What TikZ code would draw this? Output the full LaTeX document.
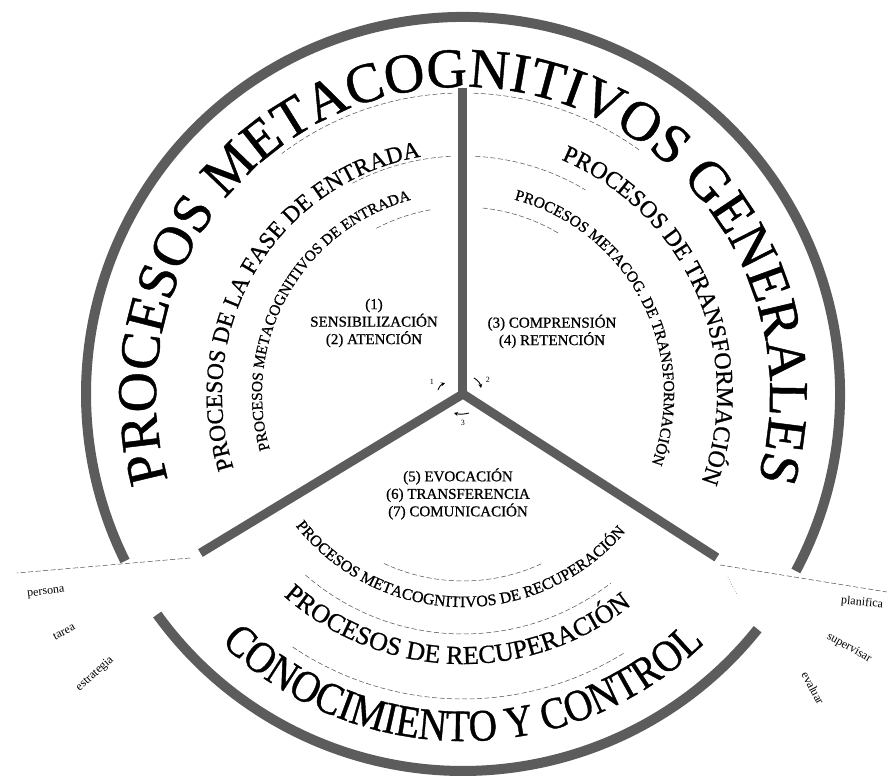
\documentclass[tikz,border=0pt]{standalone}
\usepackage{fontspec}
\setmainfont{Liberation Serif}
\newfontfamily\arcserif[FakeBold=0.8]{Liberation Serif}
\newfontfamily\condserif[FakeStretch=0.87,FakeBold=0.8]{Liberation Serif}
\usetikzlibrary{decorations.text,arrows.meta}
\begin{document}
\begin{tikzpicture}[x=1pt,y=1pt,
  ring/.style={draw=black!64, line width=10pt},
  spoke/.style={draw=black!64, line width=9pt},
  guide/.style={draw=black!70, line width=0.5pt, dash pattern=on 5pt off 2.5pt},
  faint/.style={draw=black!55, line width=0.6pt, dotted},
  lbl/.style={font=\arcserif\fontsize{15}{17.5}\selectfont, align=center, inner sep=0pt},
  side/.style={font=\fontsize{12}{12}\selectfont, inner sep=0pt},
  hubarrow/.style={-{Stealth[length=4pt,width=4pt]}, line width=0.9pt},
  hubnum/.style={font=\fontsize{8}{8}\selectfont, inner sep=0pt},
]
\useasboundingbox (-463,-384) rectangle (424,394);
\clip (-463,-384) rectangle (424,394);

% outer ring (broken at the two lower spokes)
\draw[ring] (-28:377) arc[start angle=-28, end angle=206.3, radius=377];
\draw[ring] (215.8:377) arc[start angle=215.8, end angle=321.4, radius=377];

% spokes
\coordinate (hub) at (0,0);
\coordinate (s1) at (90:306);
\coordinate (s2) at (211.2:307);
\coordinate (s3) at (327.2:302);
\draw[spoke] (s2) -- (hub) -- (s3);
\draw[spoke] (s1) -- (hub);

% dashed guide arcs, upper left
\draw[guide] (92:301) arc[start angle=92, end angle=127, radius=301];
\draw[guide] (93:238) arc[start angle=93, end angle=118, radius=238];
\draw[guide] (100:187) arc[start angle=100, end angle=118, radius=187];
% upper right
\draw[guide] (88:301) arc[start angle=88, end angle=54, radius=301];
\draw[guide] (87:238) arc[start angle=87, end angle=59, radius=238];
\draw[guide] (84:187) arc[start angle=84, end angle=59, radius=187];
% bottom
\draw[guide] (245:187) arc[start angle=245, end angle=295, radius=187];
\draw[guide] (229:240) arc[start angle=229, end angle=308, radius=240];
\draw[guide] (236:305) arc[start angle=236, end angle=302, radius=305];

% dashed lines out of the lower spokes
\coordinate (la) at (-273,-164);
\coordinate (lb) at (-446,-179);
\draw[guide] (la) -- (lb);
\coordinate (ra) at (257,-171);
\coordinate (rb) at (424,-198);
\draw[guide] (ra) -- (rb);
\coordinate (rc) at (265,-183);
\coordinate (rd) at (274,-201);
\draw[faint] (rc) -- (rd);

% arc texts, upper (clockwise)
\path[decorate, decoration={text along path, text align=center,
  text={|\arcserif\fontsize{56}{56}\selectfont|PROCESOS METACOGNITIVOS GENERALES}}]
  (210:307) arc[start angle=210, end angle=-30, radius=307];
\path[decorate, decoration={text along path, text align=center,
  text={|\arcserif\fontsize{23.5}{23.5}\selectfont|PROCESOS DE LA FASE DE ENTRADA}}]
  (210:241) arc[start angle=210, end angle=88, radius=241];
\path[decorate, decoration={text along path, text align=center,
  text={|\arcserif\fontsize{15.3}{15.3}\selectfont|PROCESOS METACOGNITIVOS DE ENTRADA}}]
  (205:201) arc[start angle=205, end angle=96, radius=201];
\path[decorate, decoration={text along path, text align=center,
  text={|\arcserif\fontsize{24}{24}\selectfont|PROCESOS DE TRANSFORMACIÓN}}]
  (90:254) arc[start angle=90, end angle=-43, radius=254];
\path[decorate, decoration={text along path, text align=center,
  text={|\arcserif\fontsize{15.5}{15.5}\selectfont|PROCESOS METACOG. DE TRANSFORMACIÓN}}]
  (88:201) arc[start angle=88, end angle=-33, radius=201];

% arc texts, lower (counter-clockwise)
\path[decorate, decoration={text along path, text align=center,
  text={|\arcserif\fontsize{15.9}{15.9}\selectfont|PROCESOS METACOGNITIVOS DE RECUPERACIÓN}}]
  (205:213) arc[start angle=205, end angle=333, radius=213];
\path[decorate, decoration={text along path, text align=center,
  text={|\arcserif\fontsize{26}{26}\selectfont|PROCESOS DE RECUPERACIÓN}}]
  (199:270) arc[start angle=199, end angle=338, radius=270];
\path[decorate, decoration={text along path, text align=center,
  text={|\condserif\fontsize{45}{45}\selectfont|CONOCIMIENTO Y CONTROL}}]
  (200:347) arc[start angle=200, end angle=340, radius=347];

% sector contents
\node[lbl] (t12) at (-89,71) {(1)\\SENSIBILIZACIÓN\\(2) ATENCIÓN};
\node[lbl] (t34) at (89,62.5) {(3) COMPRENSIÓN\\(4) RETENCIÓN};
\node[lbl] (t567) at (-5,-100) {(5) EVOCACIÓN\\(6) TRANSFERENCIA\\(7) COMUNICACIÓN};

% side labels
\node[side, rotate=7] (persona) at (-417,-199) {persona};
\node[side, rotate=28] (tarea) at (-399,-238) {tarea};
\node[side, rotate=42] (estrategia) at (-368,-280) {estrategia};
\node[side, rotate=-5, anchor=west] (planifica) at (378,-207) {planifica};
\node[side, rotate=-30] (supervisar) at (386,-254) {supervisar};
\node[side, rotate=-62] (evaluar) at (350,-294) {evaluar};

% hub rotation arrows
\coordinate (a1s) at (-25,4);  \coordinate (a1e) at (-18,11);
\coordinate (a2s) at (11,16);  \coordinate (a2e) at (18,6);
\coordinate (a3s) at (6,-19);  \coordinate (a3e) at (-9,-19);
\draw[hubarrow] (a1s) to[bend left=25] (a1e);
\draw[hubarrow] (a2s) to[bend left=25] (a2e);
\draw[hubarrow] (a3s) to[bend left=15] (a3e);
\node[hubnum] (n1) at (-31,12) {1};
\node[hubnum] (n2) at (25,14) {2};
\node[hubnum] (n3) at (0,-29) {3};
\end{tikzpicture}
\end{document}
